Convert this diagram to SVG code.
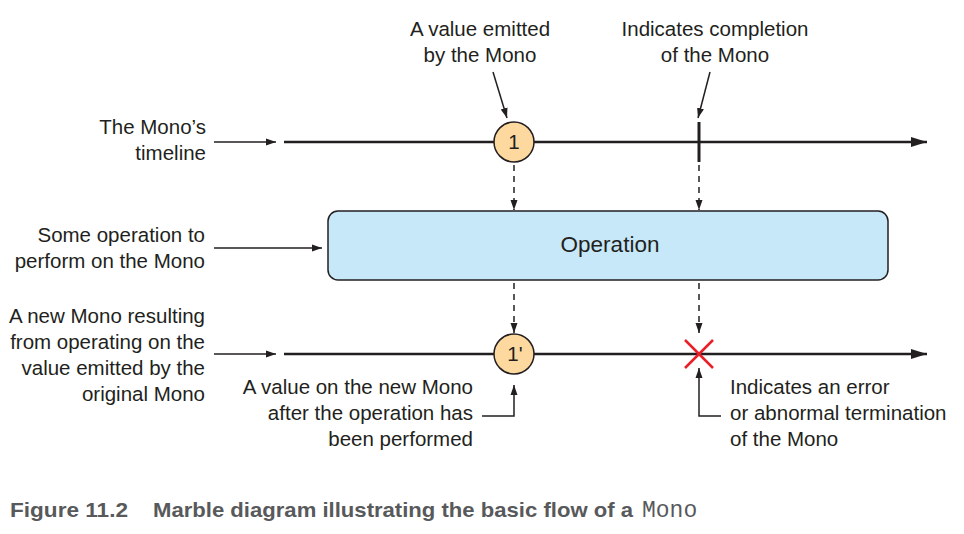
<svg xmlns="http://www.w3.org/2000/svg" width="964" height="534" viewBox="0 0 964 534">
<defs>
<marker id="ah" viewBox="0 0 10 10" refX="10" refY="5" markerWidth="10" markerHeight="10" markerUnits="userSpaceOnUse" orient="auto"><path d="M0,1.5 L10,5 L0,8.5 Z" fill="#231f20"/></marker>
<marker id="ahb" viewBox="0 0 16 10" refX="16" refY="5" markerWidth="16" markerHeight="10" markerUnits="userSpaceOnUse" orient="auto"><path d="M0,0 L16,5 L0,10 Z" fill="#231f20"/></marker>
<style>
text{font-family:"Liberation Sans",Arial,sans-serif;font-size:20.5px;fill:#231f20}
.r{text-anchor:end}
.m{text-anchor:middle}
.ln{stroke:#231f20;stroke-width:1.5;fill:none}
.tl{stroke:#231f20;stroke-width:2.5;fill:none}
.dash{stroke:#231f20;stroke-width:1.5;stroke-dasharray:6,5;fill:none}
.marble{fill:#fdd9a0;stroke:#231f20;stroke-width:1.5}
.cap{font-family:"Liberation Sans",Arial,sans-serif;font-weight:bold;font-size:21px;fill:#58595b}
</style>
</defs>
<rect width="964" height="534" fill="#fff"/>
<g id="connectors">
<line class="tl" x1="284" y1="142" x2="927" y2="142" marker-end="url(#ahb)"/>
<line class="tl" x1="284" y1="354" x2="927" y2="354" marker-end="url(#ahb)"/>
<line class="ln" x1="214" y1="142" x2="276" y2="142" marker-end="url(#ah)"/>
<line class="ln" x1="214" y1="248" x2="322" y2="248" marker-end="url(#ah)"/>
<line class="ln" x1="214" y1="354" x2="276" y2="354" marker-end="url(#ah)"/>
<line class="ln" x1="493" y1="72" x2="507" y2="118" marker-end="url(#ah)"/>
<line class="ln" x1="710" y1="72" x2="698" y2="118" marker-end="url(#ah)"/>
<line class="dash" x1="514" y1="165" x2="514" y2="210" marker-end="url(#ah)"/>
<line class="dash" x1="699" y1="165" x2="699" y2="210" marker-end="url(#ah)"/>
<line class="dash" x1="514" y1="283" x2="514" y2="333" marker-end="url(#ah)"/>
<line class="dash" x1="699" y1="283" x2="699" y2="333" marker-end="url(#ah)"/>
<polyline class="ln" points="482,416 514,416 514,385" marker-end="url(#ah)"/>
<polyline class="ln" points="721,416 699,416 699,368" marker-end="url(#ah)"/>
</g>
<g id="label-mono-timeline"><text class="r" x="206" y="134">The Mono’s</text><text class="r" x="206" y="160">timeline</text></g>
<g id="label-value-emitted"><text class="m" x="480" y="36">A value emitted</text><text class="m" x="480" y="62">by the Mono</text></g>
<g id="label-completion"><text class="m" x="715" y="36">Indicates completion</text><text class="m" x="715" y="62">of the Mono</text></g>
<g id="marble-1"><circle class="marble" cx="514" cy="142" r="20"/><text class="m" x="514" y="149">1</text></g>
<g id="completion-tick"><line x1="699" y1="122" x2="699" y2="162" stroke="#231f20" stroke-width="3"/></g>
<g id="operation"><rect x="328" y="211" width="560" height="69" rx="10" fill="#c7e8f8" stroke="#231f20" stroke-width="1.5"/><text class="m" x="610" y="252" style="font-size:22.5px">Operation</text></g>
<g id="label-operation"><text class="r" x="205" y="242">Some operation to</text><text class="r" x="205" y="268">perform on the Mono</text></g>
<g id="label-new-mono"><text class="r" x="205" y="323">A new Mono resulting</text><text class="r" x="205" y="349">from operating on the</text><text class="r" x="205" y="375">value emitted by the</text><text class="r" x="205" y="401">original Mono</text></g>
<g id="marble-1prime"><circle class="marble" cx="514" cy="354" r="20"/><text class="m" x="515" y="361">1'</text></g>
<g id="error-x"><path d="M685,340 L713,368 M713,340 L685,368" stroke="#e8202a" stroke-width="2.5" fill="none"/></g>
<g id="label-new-value"><text class="r" x="473" y="394">A value on the new Mono</text><text class="r" x="473" y="420">after the operation has</text><text class="r" x="473" y="446">been performed</text></g>
<g id="label-error"><text x="730" y="394">Indicates an error</text><text x="730" y="420">or abnormal termination</text><text x="730" y="446">of the Mono</text></g>
<g id="caption">
<text class="cap" x="10" y="517" textLength="118" lengthAdjust="spacingAndGlyphs">Figure 11.2</text>
<text class="cap" x="153" y="517" textLength="480" lengthAdjust="spacingAndGlyphs">Marble diagram illustrating the basic flow of a</text>
<text x="642" y="517" style="font-family:'Liberation Mono','Courier New',monospace;font-size:23px;fill:#58595b">Mono</text>
</g>
</svg>
